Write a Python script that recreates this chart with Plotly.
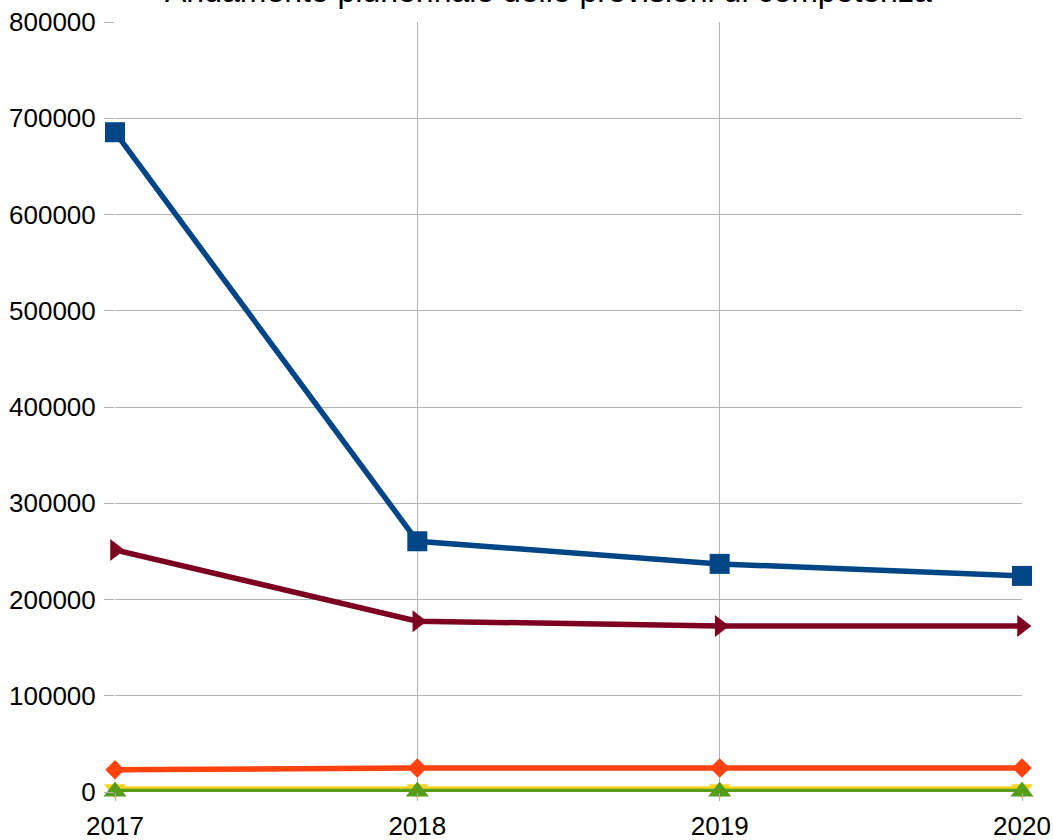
import plotly.graph_objects as go

years = ["2017", "2018", "2019", "2020"]
title_text = "Andamento pluriennale delle previsioni di competenza"

serie_blu = [685500, 260500, 237000, 224500]
serie_bordeaux = [251500, 177500, 172500, 172500]
serie_arancio = [23000, 25000, 25000, 25000]
serie_giallo = [3000, 3000, 3000, 3000]
serie_verde = [500, 500, 500, 500]

series = [
    ("Serie 1", serie_blu, "#004586", "square", 20),
    ("Serie 2", serie_bordeaux, "#7e0021", "triangle-right", 19),
    ("Serie 3", serie_arancio, "#ff420e", "diamond", 15),
    ("Serie 4", serie_giallo, "#ffd320", "triangle-down", 19),
    ("Serie 5", serie_verde, "#579d1c", "triangle-up", 20),
]

EXTRA = 40  # hidden band above the visible page (title is cut off in the reference)

x_idx = list(range(len(years)))
fig = go.Figure()
for name, vals, col, sym, sz in series:
    fig.add_trace(go.Scatter(
        x=x_idx, y=vals, name=name, mode="lines+markers",
        line=dict(color=col, width=5.5),
        marker=dict(symbol=sym, size=sz, color=col, line=dict(width=0)),
        cliponaxis=False,
    ))

fig.update_layout(
    width=1053, height=840 + EXTRA,
    margin=dict(l=115, r=31, t=22 + EXTRA, b=48),
    paper_bgcolor="white", plot_bgcolor="white",
    showlegend=False,
    font=dict(family="Liberation Sans", size=26, color="black"),
    annotations=[dict(
        text=title_text, xref="paper", yref="paper", x=0.478, y=1,
        xanchor="center", yanchor="middle", yshift=31, showarrow=False,
        font=dict(family="Liberation Sans", size=32, color="black"),
    )],
)
fig.update_xaxes(
    range=[0, 3], tickvals=x_idx, ticktext=years,
    showgrid=True, gridcolor="#b3b3b3", gridwidth=1,
    ticks="outside", ticklen=8, tickcolor="#b3b3b3",
    ticklabelstandoff=3,
    showline=False, zeroline=False, automargin=False,
)
fig.update_yaxes(
    range=[0, 800000], dtick=100000, tickformat="d",
    showgrid=True, gridcolor="#b3b3b3", gridwidth=1,
    ticks="outside", ticklen=10, tickcolor="#b3b3b3",
    ticklabelstandoff=3,
    showline=False, zeroline=False, automargin=False,
)

fig.write_html(
    "out.html",
    post_script=(
        "document.documentElement.style.margin='0';"
        "document.body.style.margin='0';"
        "document.body.style.marginTop='-%dpx';"
        "document.documentElement.style.overflow='hidden';"
        "document.body.style.overflow='hidden';" % EXTRA
    ),
)
